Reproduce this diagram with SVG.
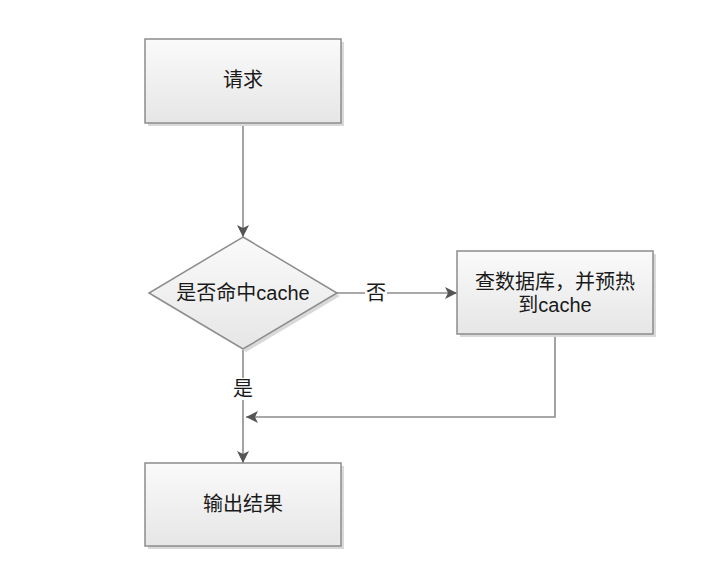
<svg xmlns="http://www.w3.org/2000/svg" width="716" height="576" viewBox="0 0 716 576">
<defs>
<linearGradient id="g" x1="0" y1="0" x2="0" y2="1">
<stop offset="0" stop-color="#fafafa"/>
<stop offset="1" stop-color="#e6e6e6"/>
</linearGradient>
<marker id="arr" viewBox="0 0 12 12" refX="12" refY="6" markerWidth="12" markerHeight="12" markerUnits="userSpaceOnUse" orient="auto">
<path d="M0,0 L12,6 L0,12 L3,6 Z" fill="#555"/>
</marker>
<style>
.shape{fill:url(#g);stroke:#8c8c8c;stroke-width:1.5}
.shadow{fill:#d9d9d9}
.t{font-family:"Liberation Sans","Noto Sans CJK SC",sans-serif;font-size:20px;fill:#1a1a1a;text-anchor:middle;dominant-baseline:central}
.c{fill:none;stroke:#8c8c8c;stroke-width:1.6}
.lbl{fill:#fff}
</style>
</defs>
<rect width="716" height="576" fill="#fff"/>
<g id="connectors">
<line class="c" x1="243" y1="123" x2="243" y2="237" marker-end="url(#arr)"/>
<line class="c" x1="337" y1="293" x2="457" y2="293" marker-end="url(#arr)"/>
<line class="c" x1="243" y1="349" x2="243" y2="463" marker-end="url(#arr)"/>
<polyline class="c" points="555,334 555,417 246,417" marker-end="url(#arr)"/>
<rect class="lbl" x="365" y="282" width="22" height="22"/>
<text class="t" x="376" y="293">否</text>
<rect class="lbl" x="232" y="378" width="22" height="22"/>
<text class="t" x="243" y="389">是</text>
</g>
<g id="request">
<rect class="shadow" x="148" y="42" width="196" height="84"/>
<rect class="shape" x="145" y="39" width="196" height="84"/>
<text class="t" x="243" y="80">请求</text>
</g>
<g id="decision">
<polygon class="shadow" points="246,240 340,296 246,352 152,296"/>
<polygon class="shape" points="243,237 337,293 243,349 149,293"/>
<text class="t" x="243" y="293">是否命中cache</text>
</g>
<g id="querydb">
<rect class="shadow" x="460" y="254" width="196" height="83"/>
<rect class="shape" x="457" y="251" width="196" height="83"/>
<text class="t" x="555" y="282">查数据库，并预热</text>
<text class="t" x="555" y="305">到cache</text>
</g>
<g id="output">
<rect class="shadow" x="148" y="466" width="196" height="83"/>
<rect class="shape" x="145" y="463" width="196" height="83"/>
<text class="t" x="243" y="504">输出结果</text>
</g>
</svg>
